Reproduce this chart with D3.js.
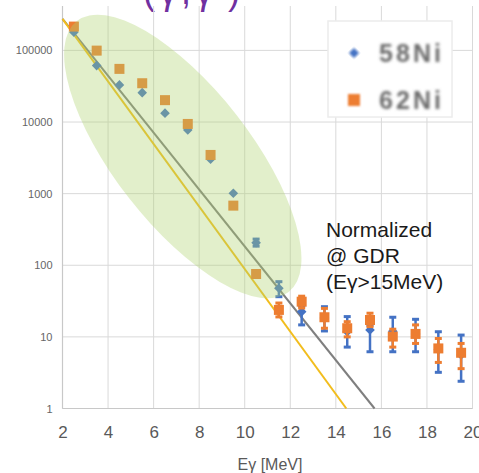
<!DOCTYPE html>
<html><head><meta charset="utf-8">
<script src="https://cdn.jsdelivr.net/npm/d3@7"></script>
<style>body{margin:0;background:#fff}svg{display:block}</style>
</head><body><svg id="c" width="479" height="473"></svg>
<script>
// ---------- data ----------
const energies = [2.5,3.5,4.5,5.5,6.5,7.5,8.5,9.5,10.5,11.5,12.5,13.5,14.5,15.5,16.5,17.5,18.5,19.5];
const ni58   = [179000,61400,33000,25700,13300,7760,3020,1014,207,47.7,22.5,18.3,11.8,12.5,12,11,6.6,5.6];
const ni58Lo = [null,null,null,null,null,null,null,null,185,36.4,14.7,12.1,7.2,6.2,6.2,6.2,3.2,2.4];
const ni58Hi = [null,null,null,null,null,null,null,null,232,59,27,26.4,19.2,14.5,18.8,17.6,11.8,10.6];
const ni62   = [215000,99300,55200,34800,20200,9400,3470,680,75.5,23.8,31,18.8,13.2,17.2,10.1,11,6.9,6.0];
const ni62Lo = [null,null,null,null,null,null,null,null,null,19,25.3,13.2,10,13.9,7.2,8.1,4.4,3.6];
const ni62Hi = [null,null,null,null,null,null,null,null,null,29.7,37,25,16.3,21.4,12.8,14.7,9.5,8.1];
const seriesNames = ["58Ni","62Ni"];
const xTicks = [2,4,6,8,10,12,14,16,18,20];
const yTicks = [1,10,100,1000,10000,100000];
const fitGray   = [[2,275000],[15.7,1]];
const fitYellow = [[2,275000],[14.46,1]];
const annotation = ["Normalized","@ GDR","(E\u03b3>15MeV)"];
const titleText = "(\u03b3,\u03b3')";
const xTitle = "E\u03b3 [MeV]";

// ---------- layout ----------
const W = 479, H = 473;
const m = {l:62.5, r:6.5, t:6, b:64.5};
const svg = d3.select("#c");
const x = d3.scaleLinear().domain([2,20]).range([m.l, W-m.r]);
const y = d3.scaleLog().domain([1, Math.pow(10,5.62)]).range([H-m.b, m.t]);
const blue = "#4472c4", orange = "#ed7d31";
const font = "Liberation Sans, Arial, sans-serif";

// title (cropped at top, as in the reference)
svg.append("text").attr("x",143).attr("y",4).attr("font-family",font)
  .attr("font-size",36).attr("fill","#7030a0").attr("textLength",97).text(titleText);

// gridlines
svg.append("g").selectAll("line").data(yTicks).join("line")
  .attr("x1",m.l).attr("x2",W-m.r).attr("y1",d=>y(d)).attr("y2",d=>y(d))
  .attr("stroke","#d9d9d9").attr("stroke-width",1);
svg.append("g").selectAll("line").data(xTicks).join("line")
  .attr("y1",m.t).attr("y2",H-m.b).attr("x1",d=>x(d)).attr("x2",d=>x(d))
  .attr("stroke","#d9d9d9").attr("stroke-width",1);
svg.append("line").attr("x1",m.l).attr("x2",m.l).attr("y1",m.t).attr("y2",H-m.b).attr("stroke","#c8c8c8").attr("stroke-width",1.2);
svg.append("line").attr("x1",m.l).attr("x2",W-m.r).attr("y1",H-m.b).attr("y2",H-m.b).attr("stroke","#c8c8c8").attr("stroke-width",1.2);

// axes labels
const yAxis = d3.axisLeft(y).tickValues(yTicks).tickFormat(d3.format("d")).tickSize(0).tickPadding(10);
const gy = svg.append("g").attr("transform",`translate(${m.l},0)`).call(yAxis);
gy.select(".domain").remove();
gy.selectAll("text").attr("font-family",font).attr("font-size",11).attr("fill","#666");
const xAxis = d3.axisBottom(x).tickValues(xTicks).tickFormat(d3.format("d")).tickSize(0).tickPadding(17);
const gx = svg.append("g").attr("transform",`translate(0,${H-m.b})`).call(xAxis);
gx.select(".domain").remove();
gx.selectAll("text").attr("font-family",font).attr("font-size",17).attr("fill","#595959");

svg.append("text").attr("x",270).attr("y",470).attr("text-anchor","middle")
  .attr("font-family",font).attr("font-size",16).attr("fill","#595959").text(xTitle);

// fit lines
const line = d3.line().x(d=>x(d[0])).y(d=>y(d[1]));
svg.append("path").datum(fitGray).attr("d",line).attr("fill","none").attr("stroke","#7f7f7f").attr("stroke-width",2);
svg.append("path").datum(fitYellow).attr("d",line).attr("fill","none").attr("stroke","#f2bd1d").attr("stroke-width",2);

// error bars + markers
function errBars(lo, hi, color){
  const g = svg.append("g");
  const idx = energies.map((e,i)=>i).filter(i=>lo[i]!=null);
  g.selectAll("line.v").data(idx).join("line").attr("class","v")
    .attr("x1",i=>x(energies[i])).attr("x2",i=>x(energies[i]))
    .attr("y1",i=>y(lo[i])).attr("y2",i=>y(hi[i])).attr("stroke",color).attr("stroke-width",2.5);
  [lo,hi].forEach(arr=>{
    g.selectAll(null).data(idx).join("line")
      .attr("x1",i=>x(energies[i])-3.5).attr("x2",i=>x(energies[i])+3.5)
      .attr("y1",i=>y(arr[i])).attr("y2",i=>y(arr[i])).attr("stroke",color).attr("stroke-width",3);
  });
}
errBars(ni58Lo, ni58Hi, blue);
svg.append("g").selectAll("rect").data(energies).join("rect")
  .attr("x",-3.4).attr("y",-3.4).attr("width",6.8).attr("height",6.8)
  .attr("transform",(d,i)=>`translate(${x(d)},${y(ni58[i])}) rotate(45)`).attr("fill",blue);
errBars(ni62Lo, ni62Hi, orange);
svg.append("g").selectAll("rect").data(energies).join("rect")
  .attr("x",d=>x(d)-5).attr("y",(d,i)=>y(ni62[i])-5).attr("width",10).attr("height",10).attr("fill",orange);

// translucent ellipse annotation
const ell = {e:7.28, v:3300, rx:172, ry:68, angle:52};
svg.append("ellipse").attr("cx",0).attr("cy",0).attr("rx",ell.rx).attr("ry",ell.ry)
  .attr("transform",`translate(${x(ell.e)},${y(ell.v)}) rotate(${ell.angle})`)
  .attr("fill","rgb(176,210,112)").attr("fill-opacity",0.36);

// annotation text
svg.append("g").selectAll("text").data(annotation).join("text")
  .attr("x",326).attr("y",(d,i)=>237+i*26).attr("font-family",font)
  .attr("font-size",21).attr("fill","#1a1a1a").text(d=>d);

// legend
const defs = svg.append("defs");
defs.append("filter").attr("id","blur").append("feGaussianBlur").attr("stdDeviation",1.6);
defs.append("filter").attr("id","blur2").append("feGaussianBlur").attr("stdDeviation",1.0);
const lg = svg.append("g");
lg.append("rect").attr("x",328).attr("y",21).attr("width",124).attr("height",96)
  .attr("fill","#fff").attr("stroke","#ececec").attr("stroke-width",1.5);
lg.append("rect").attr("x",-3.6).attr("y",-3.6).attr("width",7.2).attr("height",7.2)
  .attr("transform","translate(354,53) rotate(45)").attr("fill",blue).attr("filter","url(#blur2)");
lg.append("rect").attr("x",348).attr("y",94).attr("width",12).attr("height",12).attr("fill",orange).attr("filter","url(#blur2)");
lg.selectAll("text").data(seriesNames).join("text")
  .attr("x",379).attr("y",(d,i)=>62+i*47).attr("font-family",font)
  .attr("font-size",25).attr("font-weight","bold").attr("fill","#6a6a6a")
  .attr("textLength",62).attr("filter","url(#blur)").text(d=>d);
</script></body></html>
